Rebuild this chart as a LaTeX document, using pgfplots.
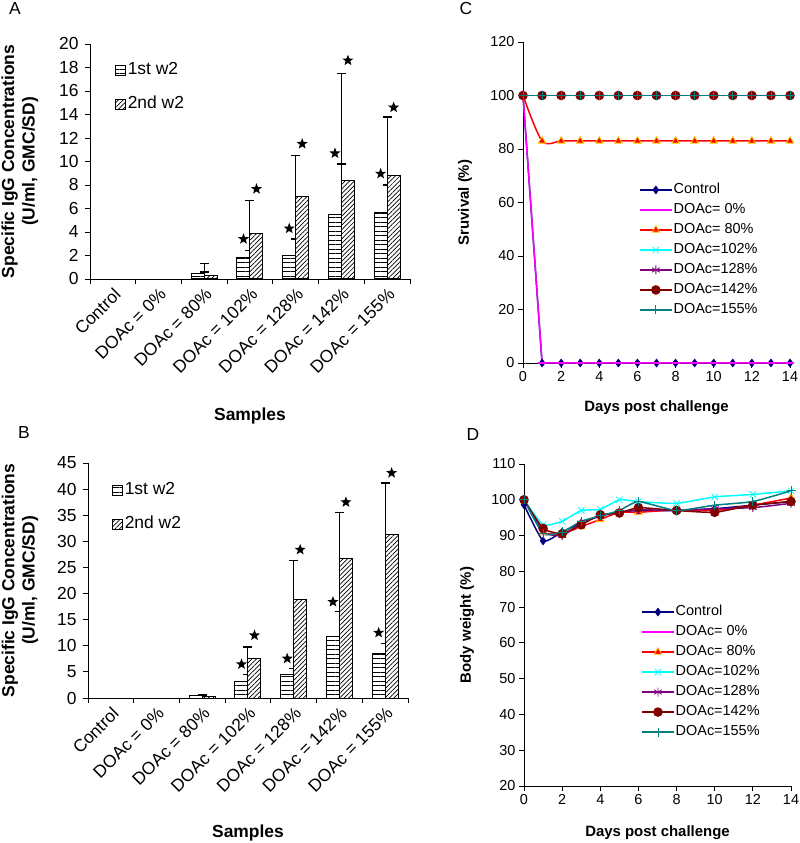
\documentclass[border=0pt]{standalone}
\usepackage{fontspec}
\setmainfont{Liberation Sans}
\usepackage{pgfplots}
\pgfplotsset{compat=1.18}
\usetikzlibrary{patterns,patterns.meta}

\definecolor{cNavy}{RGB}{0,0,128}
\definecolor{cMag}{RGB}{255,0,255}
\definecolor{cRed}{RGB}{255,0,0}
\definecolor{cYel}{RGB}{255,200,0}
\definecolor{cCyan}{RGB}{0,255,255}
\definecolor{cPurp}{RGB}{128,0,128}
\definecolor{cDRed}{RGB}{128,0,0}
\definecolor{cTeal}{RGB}{0,128,128}

\newcommand\fA{\fontsize{17.5}{20.5}\selectfont}
\newcommand\fAl{\fontsize{17.5}{20.5}\selectfont\bfseries}
\newcommand\fC{\fontsize{14.5}{17}\selectfont}
\newcommand\fCl{\fontsize{15}{18}\selectfont\bfseries}
\newcommand\fCleg{\fontsize{14.5}{17}\selectfont}

\pgfdeclareplotmark{fstar}{%
  \pgfpathmoveto{\pgfpointpolar{90}{\pgfplotmarksize}}%
  \pgfpathlineto{\pgfpointpolar{126}{0.42\pgfplotmarksize}}%
  \pgfpathlineto{\pgfpointpolar{162}{\pgfplotmarksize}}%
  \pgfpathlineto{\pgfpointpolar{198}{0.42\pgfplotmarksize}}%
  \pgfpathlineto{\pgfpointpolar{234}{\pgfplotmarksize}}%
  \pgfpathlineto{\pgfpointpolar{270}{0.42\pgfplotmarksize}}%
  \pgfpathlineto{\pgfpointpolar{306}{\pgfplotmarksize}}%
  \pgfpathlineto{\pgfpointpolar{342}{0.42\pgfplotmarksize}}%
  \pgfpathlineto{\pgfpointpolar{18}{\pgfplotmarksize}}%
  \pgfpathlineto{\pgfpointpolar{54}{0.42\pgfplotmarksize}}%
  \pgfpathclose
  \pgfusepathqfill
}

\pgfplotsset{
  base/.style={scale only axis, anchor=south west, clip=false,
    axis lines=left, axis line style={-, line width=0.9bp, black},
    tick align=outside, major tick length=5bp,
    tick style={black, line width=0.9bp},
    /pgf/number format/assume math mode=true},
  barpanel/.style={base, width=320bp, height=235bp,
    xmin=-0.5, xmax=6.5,
    xtick={0,...,6},
    xticklabels={Control, DOAc = 0\%, DOAc = 80\%, DOAc = 102\%, DOAc = 128\%, DOAc = 142\%, DOAc = 155\%},
    xtick style={draw=none},
    extra x ticks={-0.5,0.5,...,6.5}, extra x tick labels={},
    extra x tick style={xtick style={draw=black}},
    xticklabel style={rotate=45, anchor=north east, font=\fA, inner sep=2bp},
    yticklabel style={font=\fA, xshift=-3bp},
    xlabel={Samples}, xlabel style={font=\fAl, anchor=center},
    ylabel={Specific IgG Concentrations\\(U/ml, GMC/SD)},
    ylabel style={font=\fAl, align=center, anchor=center},
    legend cell align=left,
    legend style={draw=none, fill=none, font=\fA, row sep=14bp,
      nodes={inner sep=1.5bp, text height=13bp, text depth=4bp}},
  },
  firstbar/.style={ybar, bar width=13bp, bar shift=-6.5bp, draw=black, line width=1bp,
    fill=white, postaction={pattern={Lines[angle=0, distance=4.5bp, line width=0.9bp]}},
    legend image code/.code={\draw[##1] (0bp,-5bp) rectangle (10bp,5bp);},
    error bars/.cd, y dir=plus, y explicit,
    error bar style={line width=1bp, black},
    error mark options={rotate=90, mark size=4.5bp, line width=1.4bp, black}},
  secondbar/.style={ybar, bar width=13bp, bar shift=6.5bp, draw=black, line width=1bp,
    fill=white, postaction={pattern={Lines[angle=45, distance=3.2bp, line width=0.7bp]}},
    legend image code/.code={\draw[##1] (0bp,-5bp) rectangle (10bp,5bp);},
    error bars/.cd, y dir=plus, y explicit,
    error bar style={line width=1bp, black},
    error mark options={rotate=90, mark size=4.5bp, line width=1.4bp, black}},
  stars/.style={only marks, mark=fstar, mark size=5.8bp, black, forget plot},
  linepanel/.style={base, width=267bp,
    xmin=0, xmax=14, xtick={0,2,...,14},
    ticklabel style={font=\fC},
    xlabel={Days post challenge}, xlabel style={font=\fCl, anchor=center},
    ylabel style={font=\fCl, anchor=center},
    legend cell align=left,
    legend style={draw=none, fill=none, font=\fCleg, row sep=4.5bp,
      nodes={inner sep=1bp, text height=10.5bp, text depth=3bp}},
    legend image code/.code={\draw[mark repeat=2, mark phase=2, ##1] plot coordinates {(0bp,0bp) (16bp,0bp) (32bp,0bp)};},
  },
  sCtrl/.style={cNavy, line width=1.5bp, mark=diamond*, mark size=4bp, mark options={fill=cNavy, draw=cNavy, line width=0.5bp}},
  sZero/.style={cMag, line width=1.5bp, mark=-, mark size=4bp, mark options={draw=cMag, line width=1.2bp}},
  sEighty/.style={cRed, line width=1.5bp, mark=triangle*, mark size=4.3bp, mark options={fill=cRed, draw=cYel, line width=0.8bp}},
  sOne02/.style={cCyan, line width=1.5bp, mark=x, mark size=4.5bp, mark options={draw=cCyan, line width=0.8bp}},
  sOne28/.style={cPurp, line width=1.5bp, mark=asterisk, mark size=4.5bp, mark options={draw=cPurp, line width=0.8bp}},
  sOne42/.style={cDRed, line width=1.5bp, mark=*, mark size=4bp, mark options={fill=cDRed, draw=cDRed}},
  sOne55/.style={cTeal, line width=1.5bp, mark=+, mark size=4.5bp, mark options={draw=cTeal, line width=0.8bp}},
}

\begin{document}
\begin{tikzpicture}
\useasboundingbox (0,0) rectangle (800bp,843bp);

% ---------- Panel A ----------
\node[font=\fA] at (15bp,834bp) {A};
\begin{axis}[barpanel, at={(90bp,564bp)},
  ymin=0, ymax=20, ytick={0,2,...,20},
  xlabel style={at={(axis description cs:0.5,-0.583)}},
  ylabel style={at={(axis description cs:-0.219,0.5)}},
  legend style={at={(0.069,0.94)}, anchor=north west}]
\addplot[firstbar] coordinates {(2,0.5) +- (0,0.8) (3,1.8) +- (0,0.6) (4,2.0) +- (0,1.4) (5,5.5) +- (0,4.3) (6,5.7) +- (0,2.3)};
\addlegendentry{1st w2}
\addplot[secondbar] coordinates {(2,0.3) +- (0,0.3) (3,3.9) +- (0,2.8) (4,7.0) +- (0,3.5) (5,8.4) +- (0,9.1) (6,8.8) +- (0,5.0)};
\addlegendentry{2nd w2}
\addplot[stars] coordinates {(2.858,3.4) (3.858,4.3) (4.858,10.7) (5.858,8.96)};
\addplot[stars] coordinates {(3.142,7.66) (4.142,11.5) (5.142,18.6) (6.142,14.6)};
\end{axis}

% ---------- Panel B ----------
\node[font=\fA] at (24bp,410bp) {B};
\begin{axis}[barpanel, at={(88bp,145bp)},
  ymin=0, ymax=45, ytick={0,5,...,45},
  xlabel style={at={(axis description cs:0.5,-0.574)}},
  ylabel style={at={(axis description cs:-0.2125,0.5)}},
  legend style={at={(0.066,0.936)}, anchor=north west}]
\addplot[firstbar] coordinates {(2,0.5) +- (0,0.2) (3,3.07) +- (0,1.43) (4,4.5) +- (0,1.1) (5,11.8) +- (0,4.8) (6,8.45) +- (0,1.95)};
\addlegendentry{1st w2}
\addplot[secondbar] coordinates {(2,0.3) +- (0,0.2) (3,7.5) +- (0,2.3) (4,18.9) +- (0,7.4) (5,26.7) +- (0,8.8) (6,31.3) +- (0,9.9)};
\addlegendentry{2nd w2}
\addplot[stars] coordinates {(2.858,6.47) (3.858,7.55) (4.858,18.4) (5.858,12.5)};
\addplot[stars] coordinates {(3.142,12.0) (4.142,28.4) (5.142,37.5) (6.142,43.1)};
\end{axis}

% ---------- Panel C ----------
\node[font=\fA] at (466bp,834bp) {C};
\begin{axis}[linepanel, at={(523bp,480bp)}, height=321bp,
  ymin=0, ymax=120, ytick={0,20,...,120},
  ylabel={Sruvival (\%)},
  xlabel style={at={(axis description cs:0.5,-0.140)}},
  ylabel style={at={(axis description cs:-0.217,0.5)}},
  legend style={at={(0.423,0.57)}, anchor=north west}]
\addplot[sCtrl] coordinates {(0,100) (1,0) (2,0) (3,0) (4,0) (5,0) (6,0) (7,0) (8,0) (9,0) (10,0) (11,0) (12,0) (13,0) (14,0)};
\addlegendentry{Control}
\addplot[sZero] coordinates {(0,100) (1,0) (2,0) (3,0) (4,0) (5,0) (6,0) (7,0) (8,0) (9,0) (10,0) (11,0) (12,0) (13,0) (14,0)};
\addlegendentry{DOAc= 0\%}
\addplot[sEighty, smooth] coordinates {(0,100) (1,83) (2,83) (3,83) (4,83) (5,83) (6,83) (7,83) (8,83) (9,83) (10,83) (11,83) (12,83) (13,83) (14,83)};
\addlegendentry{DOAc= 80\%}
\addplot[sOne02] coordinates {(0,100) (1,100) (2,100) (3,100) (4,100) (5,100) (6,100) (7,100) (8,100) (9,100) (10,100) (11,100) (12,100) (13,100) (14,100)};
\addlegendentry{DOAc=102\%}
\addplot[sOne28] coordinates {(0,100) (1,100) (2,100) (3,100) (4,100) (5,100) (6,100) (7,100) (8,100) (9,100) (10,100) (11,100) (12,100) (13,100) (14,100)};
\addlegendentry{DOAc=128\%}
\addplot[sOne42] coordinates {(0,100) (1,100) (2,100) (3,100) (4,100) (5,100) (6,100) (7,100) (8,100) (9,100) (10,100) (11,100) (12,100) (13,100) (14,100)};
\addlegendentry{DOAc=142\%}
\addplot[sOne55] coordinates {(0,100) (1,100) (2,100) (3,100) (4,100) (5,100) (6,100) (7,100) (8,100) (9,100) (10,100) (11,100) (12,100) (13,100) (14,100)};
\addlegendentry{DOAc=155\%}
\end{axis}

% ---------- Panel D ----------
\node[font=\fA] at (473bp,408bp) {D};
\begin{axis}[linepanel, at={(524bp,57bp)}, height=322bp,
  ymin=20, ymax=110, ytick={20,30,...,110},
  ylabel={Body weight (\%)},
  xlabel style={at={(axis description cs:0.5,-0.146)}},
  ylabel style={at={(axis description cs:-0.213,0.5)}},
  legend style={at={(0.427,0.571)}, anchor=north west}]
\addplot[sCtrl, smooth, tension=0.3] coordinates {(0,98.6) (1,88.5) (2,91.0) (3,93.5) (4,95.5) (5,96.5) (6,97.0) (8,97.0) (10,97.5) (12,98.5) (14,99.5)};
\addlegendentry{Control}
\addlegendimage{cMag, line width=1.5bp}
\addlegendentry{DOAc= 0\%}
\addplot[sEighty, smooth, tension=0.3] coordinates {(0,100) (1,91.0) (2,90.5) (3,92.5) (4,94.5) (5,96.5) (6,96.5) (8,97.2) (10,97.0) (12,98.5) (14,100.5)};
\addlegendentry{DOAc= 80\%}
\addplot[sOne02, smooth, tension=0.3] coordinates {(0,100) (1,93.0) (2,94.0) (3,97.0) (4,97.3) (5,100.0) (6,99.5) (8,99.0) (10,100.8) (12,101.5) (14,102.5)};
\addlegendentry{DOAc=102\%}
\addplot[sOne28, smooth, tension=0.3] coordinates {(0,100) (1,91.0) (2,90.0) (3,93.5) (4,95.5) (5,96.5) (6,97.2) (8,97.0) (10,97.5) (12,97.8) (14,99.0)};
\addlegendentry{DOAc=128\%}
\addplot[sOne42, smooth, tension=0.3] coordinates {(0,100) (1,92.0) (2,90.5) (3,93.0) (4,95.8) (5,96.3) (6,97.8) (8,97.0) (10,96.5) (12,98.5) (14,99.5)};
\addlegendentry{DOAc=142\%}
\addplot[sOne55, smooth, tension=0.3] coordinates {(0,100) (1,90.5) (2,91.0) (3,94.0) (4,95.5) (5,97.0) (6,99.5) (8,97.0) (10,98.5) (12,99.5) (14,102.5)};
\addlegendentry{DOAc=155\%}
\end{axis}
\end{tikzpicture}
\end{document}
